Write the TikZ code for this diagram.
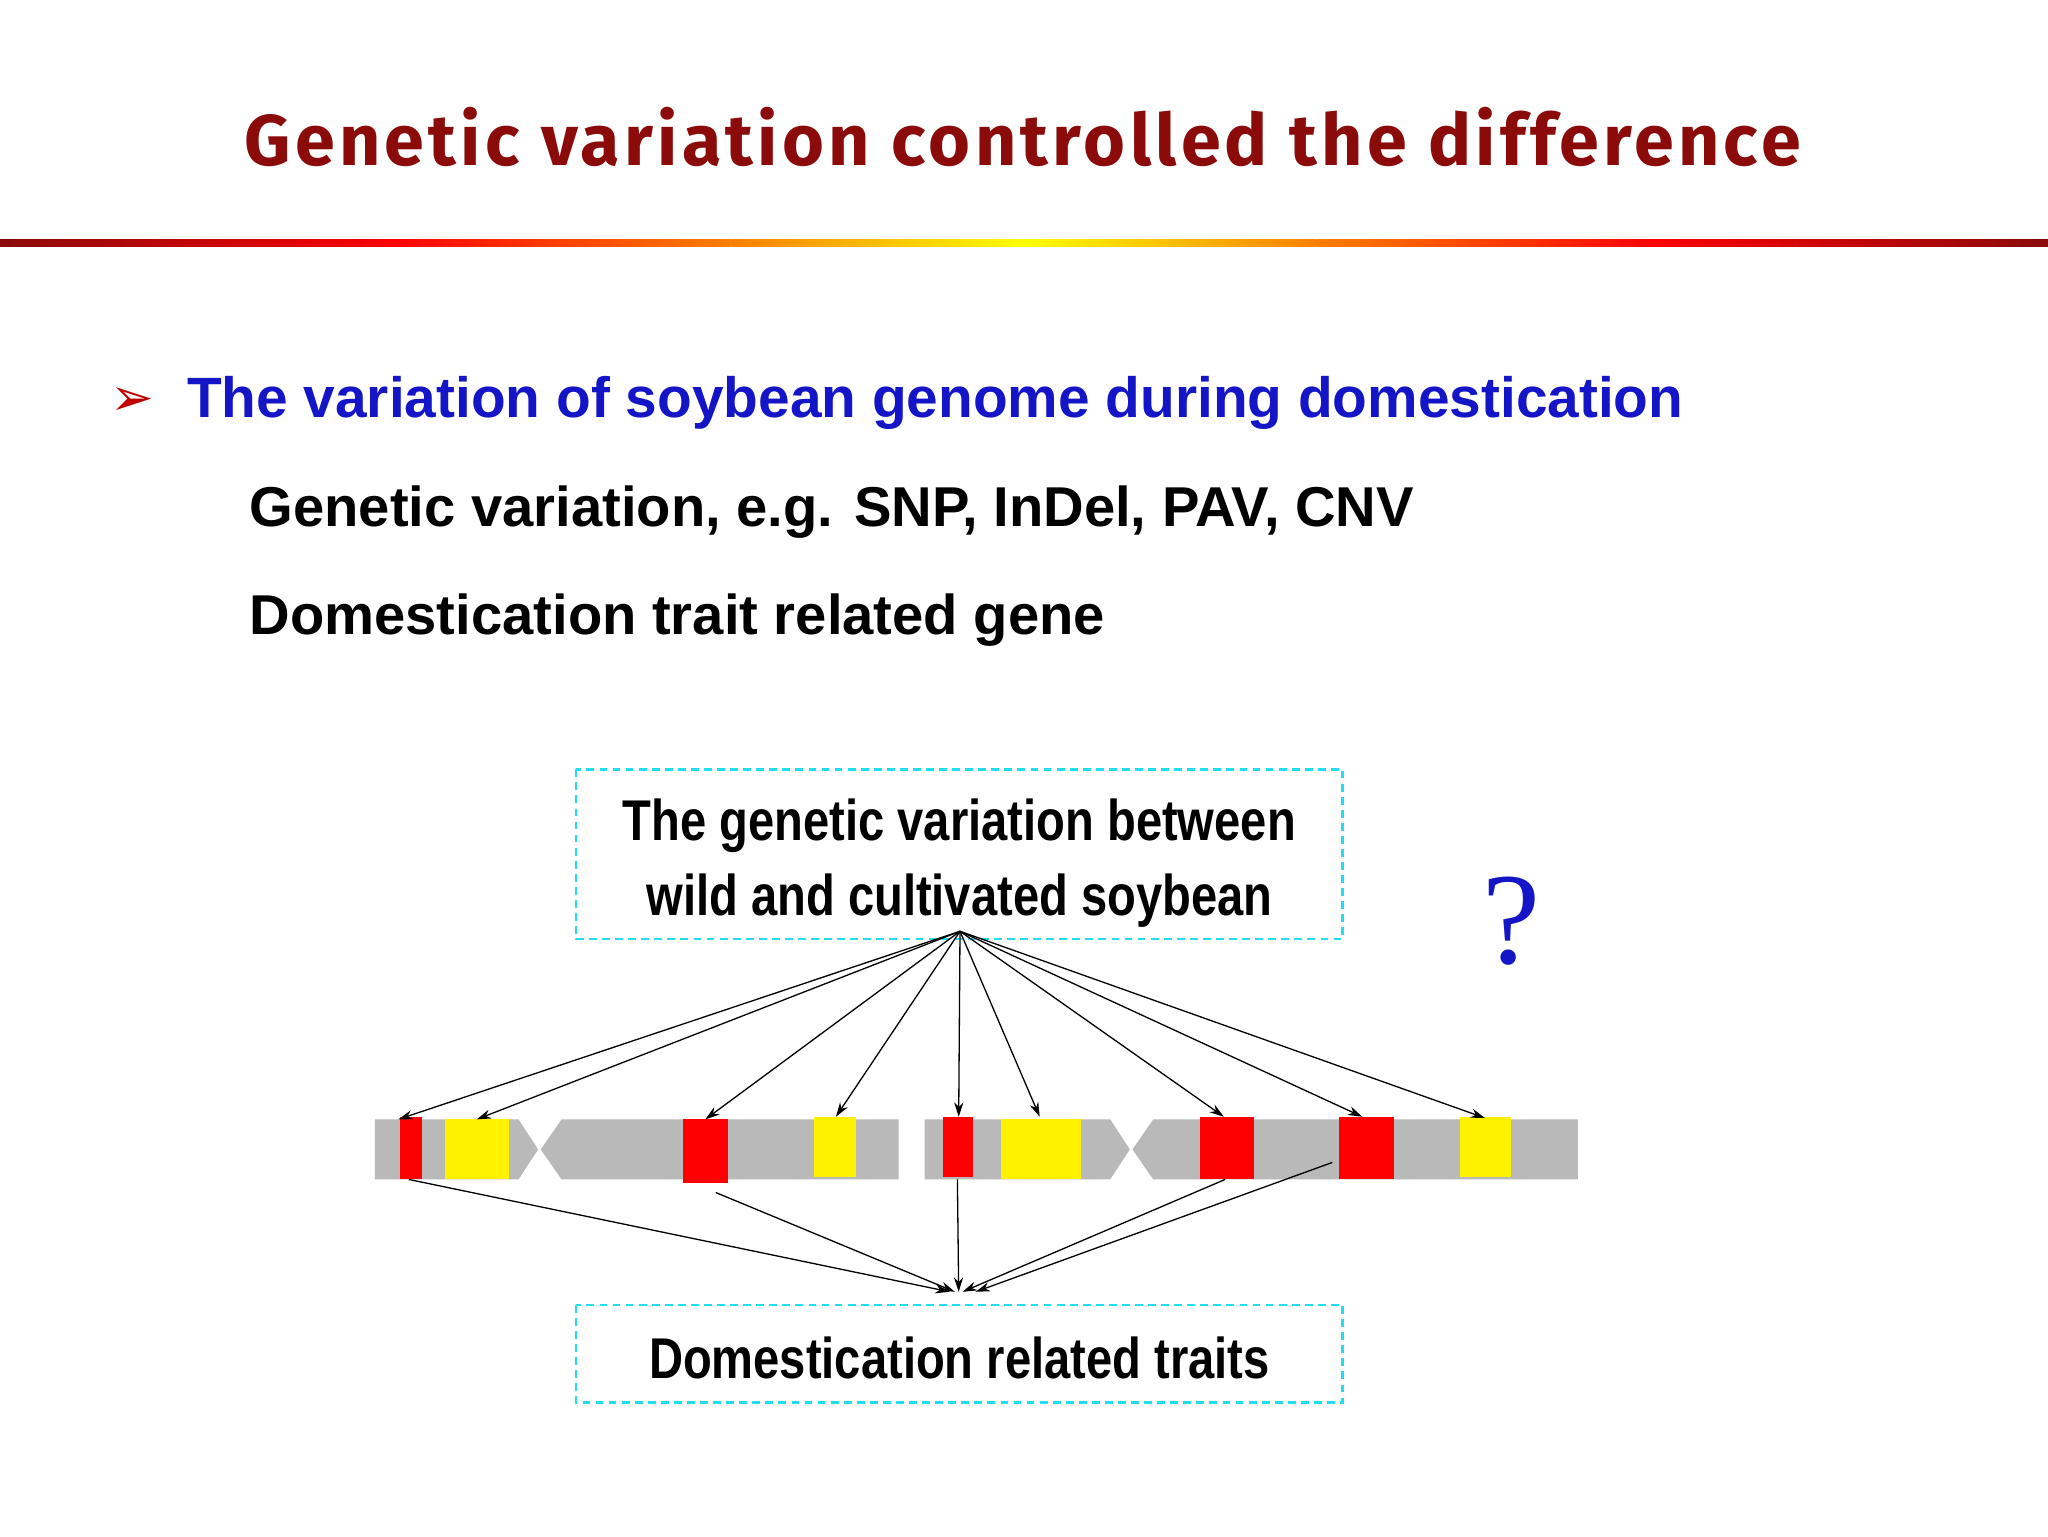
\documentclass[tikz,border=0pt]{standalone}
\usepackage{fontspec}
\setmainfont{Liberation Sans}
\newfontfamily\titlefont[LetterSpace=6]{Fira Sans}
\newfontfamily\narrowfont[FakeStretch=0.82]{Liberation Sans}
\newfontfamily\symfont{DejaVu Sans}
\newfontfamily\qfont{Liberation Serif}
\usetikzlibrary{arrows.meta}
\definecolor{titlered}{HTML}{8B0A0A}
\definecolor{bulletblue}{HTML}{1515C8}
\definecolor{boxcyan}{HTML}{22DDEE}
\tikzset{
  dbox/.style={draw=boxcyan,dashed,line width=2pt,dash pattern=on 6pt off 4pt},
  chrom/.style={fill=gray!55,draw=none},
  rband/.style={fill=red,draw=none},
  yband/.style={fill=yellow,draw=none},
  arr/.style={-{Stealth[length=11pt,width=7pt]},line width=1pt},
  seg/.style={line width=1pt}
}
\begin{document}
\begin{tikzpicture}[x=1pt,y=-1pt]
\useasboundingbox (0,0) rectangle (1568,1176);
\fill[white] (0,0) rectangle (1568,1176);
% title
\node[anchor=base,text=titlered,font=\titlefont\bfseries\fontsize{55}{62}\selectfont] (title) at (783,127) {Genetic variation controlled the difference};
% gradient rule
\shade[left color=titlered,right color=red] (0,183) rectangle (300,189);
\shade[left color=red,right color=orange] (300,183) rectangle (560,189);
\shade[left color=orange,right color=yellow] (560,183) rectangle (784,189);
\shade[left color=yellow,right color=orange] (784,183) rectangle (1008,189);
\shade[left color=orange,right color=red] (1008,183) rectangle (1268,189);
\shade[left color=red,right color=titlered] (1268,183) rectangle (1568,189);
% bullet texts
\node[anchor=base,text=red!75!black,font=\symfont\fontsize{40}{44}\selectfont] (bul) at (101,318) {➢};
\node[anchor=base west,text=bulletblue,font=\bfseries\fontsize{43.5}{50}\selectfont,inner sep=0] (l1) at (143,320) {The variation of soybean genome during domestication};
\node[anchor=base west,font=\bfseries\fontsize{43}{50}\selectfont,inner sep=0] (l2) at (191,403) {Genetic variation, e.g. SNP, InDel, PAV, CNV};
\node[anchor=base west,font=\bfseries\fontsize{43}{50}\selectfont,inner sep=0] (l3) at (191,486) {Domestication trait related gene};
% boxes
\draw[dbox] (441,589) rectangle (1028,719);
\node[font=\narrowfont\bfseries\fontsize{44}{57}\selectfont,align=center] (top) at (734.5,661) {The genetic variation between\\wild and cultivated soybean};
\draw[dbox] (441,999) rectangle (1028,1074);
\node[font=\narrowfont\bfseries\fontsize{44}{50}\selectfont] (bot) at (734.5,1040) {Domestication related traits};
\node[text=bulletblue,font=\qfont\fontsize{100}{110}\selectfont] (q) at (1157,705) {?};
% chromosomes
\fill[chrom] (287,857)--(397,857)--(412,880)--(397,903)--(287,903)--cycle;
\fill[chrom] (430,857)--(688,857)--(688,903)--(430,903)--(414,880)--cycle;
\fill[chrom] (708,857)--(850,857)--(865,880)--(850,903)--(708,903)--cycle;
\fill[chrom] (883,857)--(1208,857)--(1208,903)--(883,903)--(867,880)--cycle;
\fill[rband] (306,855) rectangle (323,903);
\fill[yband] (341,857) rectangle (390,903);
\fill[rband] (523,857) rectangle (557,906);
\fill[yband] (623,855) rectangle (655,901);
\fill[rband] (722,855) rectangle (745,901);
\fill[yband] (766,857) rectangle (828,903);
\fill[rband] (919,855) rectangle (960,903);
\fill[rband] (1025,855) rectangle (1067,903);
\fill[yband] (1118,855) rectangle (1157,901);
% connector points
\coordinate (src) at (735,713);
\foreach \n/\x/\y in {a/305/857,b/365/857,c/540/857,d/640/855,e/734/855,f/796/855,g/937/855,h/1043/855,i/1137/856}
  \coordinate (t\n) at (\x,\y);
\foreach \n in {a,b,c,d,e,f,g,h,i} \draw[arr] (src) -- (t\n);
\coordinate (s1) at (313,903);
\coordinate (s2) at (548,913);
\coordinate (s3) at (733,903);
\coordinate (s4) at (938,903);
\coordinate (s5) at (1020,890);
\coordinate (e1) at (727,989);
\coordinate (e2) at (731,989);
\coordinate (e3) at (734,989);
\coordinate (e4) at (737,989);
\coordinate (e5) at (747,989);
\foreach \k in {1,...,5} \draw[arr] (s\k) -- (e\k);
\end{tikzpicture}
\end{document}
